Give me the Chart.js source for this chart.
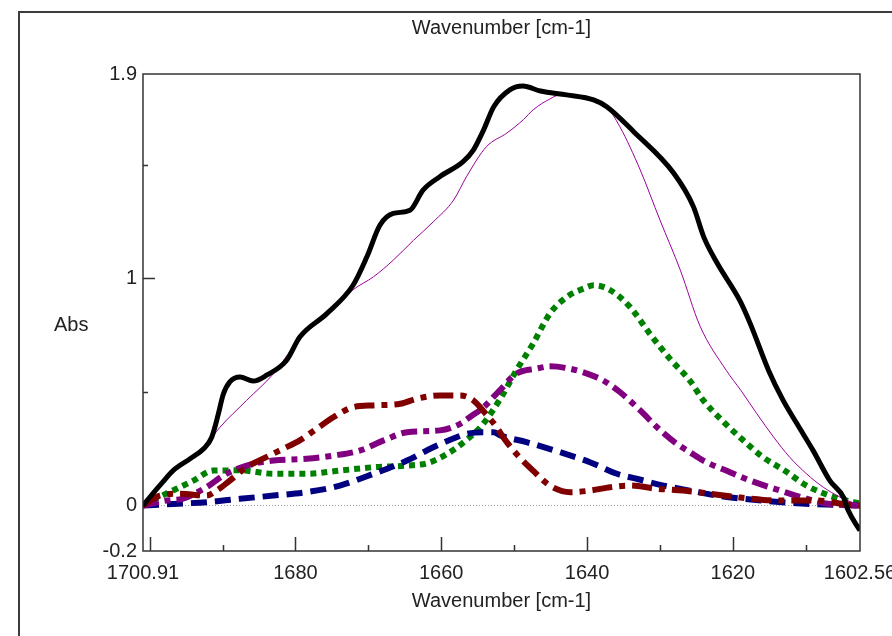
<!DOCTYPE html>
<html lang="en">
<head>
  <meta charset="UTF-8" />
  <title>Abs vs Wavenumber</title>
  <script src="https://cdn.jsdelivr.net/npm/chart.js"></script>
  <style>
    html, body { margin: 0; padding: 0; background: #fff; }
    canvas { display: block; }
  </style>
</head>
<body>
  <canvas id="spectrum" width="892" height="636"></canvas>

  <script>
    // measured spectrum (thick black)
    const totalWn = [1700.91, 1699.9, 1698.3, 1696.75, 1694.5, 1692.6, 1691.5, 1690.6, 1689.9, 1689.0, 1687.6, 1685.8, 1683.9, 1681.2, 1679.4, 1675.7, 1672.1, 1670.2, 1668.4, 1666.6, 1664.3, 1662.5, 1660.2, 1657.0, 1655.6, 1654.2, 1652.8, 1650.6, 1648.8, 1646.4, 1642.8, 1639.1, 1637.3, 1633.6, 1628.1, 1625.4, 1624.0, 1622.2, 1619.0, 1617.6, 1615.1, 1613.1, 1611.2, 1609.0, 1606.7, 1604.8, 1604.2, 1602.56];
    const totalAbs = [0.0, 0.04, 0.10, 0.155, 0.205, 0.25, 0.30, 0.40, 0.49, 0.545, 0.566, 0.548, 0.575, 0.64, 0.742, 0.845, 0.97, 1.095, 1.235, 1.286, 1.30, 1.389, 1.448, 1.514, 1.565, 1.653, 1.756, 1.83, 1.847, 1.825, 1.808, 1.786, 1.756, 1.646, 1.463, 1.315, 1.183, 1.07, 0.90, 0.80, 0.595, 0.463, 0.36, 0.243, 0.11, 0.035, -0.02, -0.11];

    // fitted sum (thin purple)
    const fitWn = [1700.91, 1699.5, 1696.75, 1694.5, 1692.2, 1690.35, 1686.7, 1683.0, 1679.4, 1675.7, 1672.1, 1669.3, 1666.6, 1663.8, 1661.1, 1658.3, 1656.5, 1653.8, 1651.0, 1648.7, 1647.4, 1645.1, 1643.7, 1639.1, 1637.3, 1635.5, 1632.7, 1630.0, 1627.2, 1624.5, 1620.9, 1618.9, 1616.7, 1614.4, 1612.2, 1609.9, 1607.6, 1605.3, 1602.56];
    const fitAbs = [0.0, 0.05, 0.15, 0.20, 0.27, 0.345, 0.463, 0.581, 0.735, 0.84, 0.95, 1.007, 1.08, 1.168, 1.249, 1.345, 1.45, 1.58, 1.64, 1.70, 1.742, 1.79, 1.808, 1.789, 1.756, 1.668, 1.477, 1.257, 1.036, 0.79, 0.595, 0.507, 0.404, 0.301, 0.213, 0.14, 0.081, 0.037, 0.0];

    // component bands
    const greenWn = [1700.91, 1699.8, 1696.3, 1694.0, 1691.3, 1687.6, 1683.0, 1678.5, 1673.9, 1669.3, 1664.7, 1662.0, 1659.3, 1656.5, 1654.5, 1651.9, 1649.7, 1647.4, 1645.1, 1642.8, 1640.5, 1639.1, 1636.8, 1634.1, 1631.4, 1628.6, 1625.9, 1624.05, 1621.5, 1618.8, 1616.0, 1612.9, 1609.9, 1606.7, 1603.5, 1602.56];
    const greenAbs = [0.0, 0.02, 0.074, 0.11, 0.154, 0.155, 0.14, 0.14, 0.154, 0.169, 0.176, 0.186, 0.225, 0.29, 0.35, 0.47, 0.595, 0.713, 0.845, 0.918, 0.955, 0.97, 0.948, 0.874, 0.757, 0.645, 0.55, 0.463, 0.375, 0.294, 0.216, 0.154, 0.088, 0.044, 0.015, 0.01];

    const violetWn = [1700.91, 1697.7, 1695.5, 1692.2, 1689.9, 1686.7, 1683.0, 1678.5, 1674.8, 1671.1, 1667.9, 1664.7, 1660.2, 1657.4, 1656.1, 1654.2, 1651.9, 1649.7, 1646.9, 1645.1, 1642.4, 1640.0, 1637.8, 1635.5, 1632.7, 1630.4, 1627.7, 1625.9, 1624.05, 1620.4, 1617.6, 1613.5, 1609.9, 1606.7, 1602.56];
    const violetAbs = [0.0, 0.022, 0.03, 0.081, 0.132, 0.176, 0.198, 0.206, 0.22, 0.243, 0.287, 0.323, 0.331, 0.36, 0.389, 0.433, 0.51, 0.581, 0.603, 0.613, 0.603, 0.581, 0.551, 0.50, 0.419, 0.345, 0.272, 0.235, 0.198, 0.147, 0.11, 0.066, 0.03, 0.007, 0.0];

    const maroonWn = [1700.91, 1698.6, 1695.8, 1692.2, 1690.8, 1689.0, 1686.7, 1684.0, 1681.7, 1679.4, 1677.1, 1674.8, 1672.1, 1669.3, 1665.6, 1663.4, 1660.2, 1657.4, 1655.6, 1653.8, 1652.4, 1651.5, 1649.7, 1647.4, 1645.1, 1642.3, 1639.6, 1636.8, 1634.1, 1630.4, 1626.8, 1623.1, 1619.5, 1615.8, 1612.2, 1608.5, 1604.8, 1602.56];
    const maroonAbs = [0.0, 0.044, 0.052, 0.044, 0.066, 0.11, 0.169, 0.213, 0.25, 0.287, 0.338, 0.389, 0.433, 0.441, 0.448, 0.47, 0.485, 0.485, 0.463, 0.40, 0.345, 0.301, 0.228, 0.154, 0.088, 0.059, 0.066, 0.081, 0.088, 0.074, 0.066, 0.052, 0.037, 0.025, 0.022, 0.022, 0.007, 0.0];

    const navyWn = [1700.91, 1696.75, 1692.2, 1687.6, 1683.0, 1678.5, 1673.9, 1669.3, 1664.7, 1661.1, 1657.9, 1656.5, 1654.2, 1652.8, 1651.9, 1648.3, 1643.7, 1639.6, 1635.9, 1633.2, 1629.5, 1625.9, 1622.2, 1618.6, 1614.9, 1611.2, 1602.56];
    const navyAbs = [0.0, 0.007, 0.015, 0.03, 0.044, 0.059, 0.088, 0.14, 0.198, 0.257, 0.301, 0.316, 0.323, 0.323, 0.309, 0.279, 0.235, 0.191, 0.14, 0.118, 0.088, 0.066, 0.044, 0.03, 0.019, 0.01, 0.0];

    // baseline at zero
    const zeroWn = [1700.91, 1602.56];
    const zeroAbs = [0, 0];

    // axis ticks
    const xLabelTicks = [1700.91, 1680, 1660, 1640, 1620, 1602.56];
    const xMajorMarks = [1700, 1680, 1660, 1640, 1620];
    const xMinorMarks = [1690, 1670, 1650, 1630, 1610];
    const yLabelTicks = [1.9, 1, 0, -0.2];
    const yMajorMarks = [1];
    const yMinorMarks = [1.5, 0.5];

    const FONT = { family: "'Liberation Sans', Arial, sans-serif", size: 20 };
    const TEXT = "#222";

    function pts(xs, ys) {
      return xs.map((x, i) => ({ x: x, y: ys[i] }));
    }

    function line(data, color, width, dash) {
      return {
        data: data,
        borderColor: color,
        borderWidth: width,
        borderDash: dash || [],
        pointRadius: 0,
        fill: false,
        cubicInterpolationMode: "monotone"
      };
    }

    // frame, "Abs" label and inward tick marks
    const decor = {
      id: "decor",
      beforeDraw(chart) {
        const ctx = chart.ctx;
        ctx.save();
        ctx.strokeStyle = "#3c3c3c";
        ctx.lineWidth = 2;
        ctx.strokeRect(19, 12, 1000, 1000);
        ctx.fillStyle = TEXT;
        ctx.font = FONT.size + "px " + FONT.family;
        ctx.textAlign = "left";
        ctx.textBaseline = "middle";
        ctx.fillText("Abs", 54, 325);
        ctx.restore();
      },
      afterDatasetsDraw(chart) {
        const ctx = chart.ctx;
        const a = chart.chartArea;
        const xs = chart.scales.x;
        const ys = chart.scales.y;
        ctx.save();
        ctx.strokeStyle = "#333";
        ctx.lineWidth = 1.5;
        ctx.strokeRect(a.left, a.top, a.right - a.left, a.bottom - a.top);
        ctx.beginPath();
        xMajorMarks.forEach(v => {
          const px = Math.round(xs.getPixelForValue(v)) + 0.5;
          ctx.moveTo(px, a.bottom); ctx.lineTo(px, a.bottom - 14);
        });
        xMinorMarks.forEach(v => {
          const px = Math.round(xs.getPixelForValue(v)) + 0.5;
          ctx.moveTo(px, a.bottom); ctx.lineTo(px, a.bottom - 6);
        });
        yMajorMarks.forEach(v => {
          const py = Math.round(ys.getPixelForValue(v)) + 0.5;
          ctx.moveTo(a.left, py); ctx.lineTo(a.left + 12, py);
        });
        yMinorMarks.forEach(v => {
          const py = Math.round(ys.getPixelForValue(v)) + 0.5;
          ctx.moveTo(a.left, py); ctx.lineTo(a.left + 5, py);
        });
        ctx.stroke();
        ctx.restore();
      }
    };

    new Chart(document.getElementById("spectrum"), {
      type: "line",
      data: {
        datasets: [
          line(pts(totalWn, totalAbs), "#000000", 5),
          line(pts(fitWn, fitAbs), "#990099", 1),
          line(pts(maroonWn, maroonAbs), "#800000", 6, [20, 7, 6, 7]),
          line(pts(violetWn, violetAbs), "#800080", 6, [16, 6, 6, 6]),
          line(pts(navyWn, navyAbs), "#000080", 6, [16, 8]),
          line(pts(greenWn, greenAbs), "#008000", 6, [6, 5]),
          line(pts(zeroWn, zeroAbs), "#999999", 1, [1, 2])
        ]
      },
      options: {
        responsive: false,
        animation: false,
        layout: { padding: { left: 0, right: 32, top: 0, bottom: 0 } },
        plugins: {
          legend: { display: false },
          tooltip: { enabled: false },
          title: {
            display: true,
            text: "Wavenumber [cm-1]",
            fullSize: false,
            color: TEXT,
            font: { family: FONT.family, size: FONT.size, weight: "normal" },
            padding: { top: 16, bottom: 34 }
          }
        },
        scales: {
          x: {
            type: "linear",
            reverse: true,
            min: 1602.56,
            max: 1700.91,
            grid: { display: false, drawTicks: false },
            border: { display: false },
            ticks: {
              autoSkip: false,
              maxRotation: 0,
              padding: 10,
              color: TEXT,
              font: FONT,
              callback: v => String(v)
            },
            title: {
              display: true,
              text: "Wavenumber [cm-1]",
              color: TEXT,
              font: FONT,
              padding: { top: 0, bottom: 23 }
            },
            afterBuildTicks: s => { s.ticks = xLabelTicks.map(v => ({ value: v })); },
            afterFit: s => {
              s.height = 85;
              s.paddingLeft = 0; s.paddingRight = 0;
            }
          },
          y: {
            type: "linear",
            min: -0.2,
            max: 1.9,
            grid: { display: false, drawTicks: false },
            border: { display: false },
            ticks: {
              padding: 6,
              color: TEXT,
              font: FONT,
              callback: v => String(v)
            },
            afterBuildTicks: s => { s.ticks = yLabelTicks.map(v => ({ value: v })); },
            afterFit: s => {
              s.width = 143;
              s.paddingTop = 0; s.paddingBottom = 0;
            }
          }
        }
      },
      plugins: [decor]
    });
  </script>
</body>
</html>
